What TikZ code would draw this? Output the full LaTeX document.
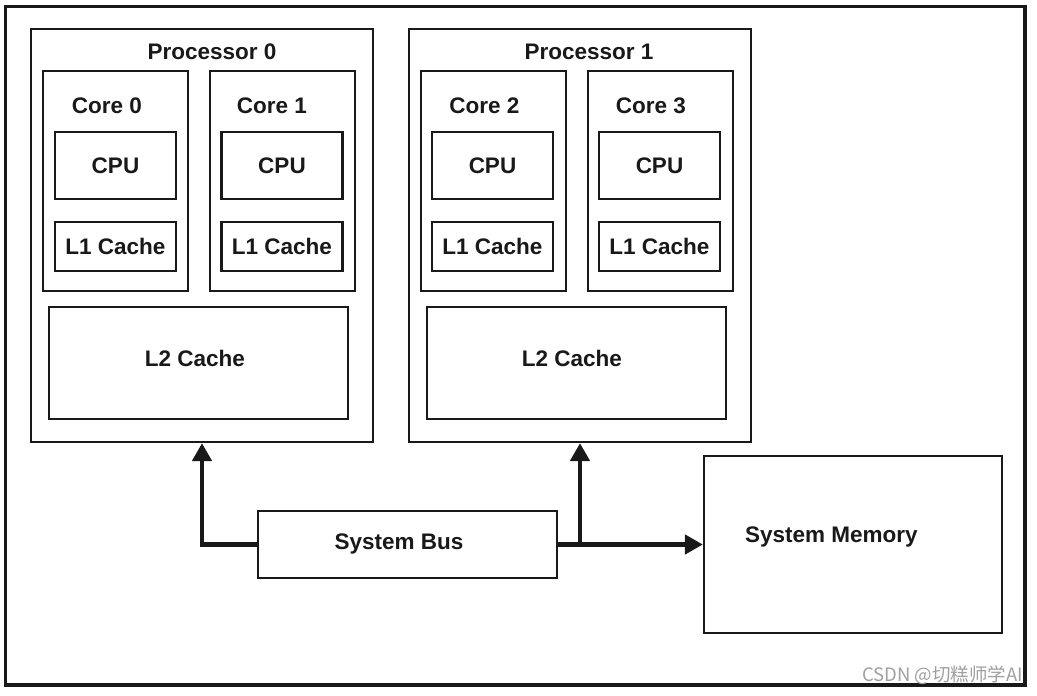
\documentclass[tikz,border=0pt]{standalone}
\usepackage{fontspec}
\setmainfont{Liberation Sans}
\newfontfamily\cjk{Noto Sans CJK SC}
\usetikzlibrary{arrows.meta}
\definecolor{ink}{RGB}{25,25,25}
\definecolor{wm}{RGB}{160,160,160}
\begin{document}
\begin{tikzpicture}[x=1pt,y=-1pt,
  box/.style={draw=ink, line width=2.2pt, inner sep=0pt},
  lbl/.style={font=\fontsize{22.5}{24}\selectfont\bfseries, text=ink, inner sep=0pt},
  bus/.style={draw=ink, line width=4.8pt, -{Triangle[length=18pt,width=19pt]}}]
\useasboundingbox (0,0) rectangle (1037,696);
\fill[white] (0,0) rectangle (1037,696);
% outer frame
\node[box, line width=3.5pt, minimum width=1019.5pt, minimum height=678.5pt] (frame) at (515.25,345.75) {};
% processors
\node[box, minimum width=342pt, minimum height=413pt] (p0) at (202,235.5) {};
\node[box, minimum width=342pt, minimum height=413pt] (p1) at (580,235.5) {};
\node[lbl] (p0t) at (212,52) {Processor 0};
\node[lbl] (p1t) at (589,52) {Processor 1};
% cores
\node[box, minimum width=145pt, minimum height=220pt] (c0) at (115.5,181) {};
\node[box, minimum width=145pt, minimum height=220pt] (c1) at (282.5,181) {};
\node[box, minimum width=145pt, minimum height=220pt] (c2) at (493.5,181) {};
\node[box, minimum width=145pt, minimum height=220pt] (c3) at (660.5,181) {};
\node[lbl] (c0t) at (107,106) {Core 0};
\node[lbl] (c1t) at (272,106) {Core 1};
\node[lbl] (c2t) at (484.5,106) {Core 2};
\node[lbl] (c3t) at (651,106) {Core 3};
% CPUs
\node[box, lbl, minimum width=121pt, minimum height=67pt] (cpu0) at (115.5,165.5) {CPU};
\node[box, lbl, minimum width=121pt, minimum height=67pt] (cpu1) at (282,165.5) {CPU};
\node[box, lbl, minimum width=121pt, minimum height=67pt] (cpu2) at (492.5,165.5) {CPU};
\node[box, lbl, minimum width=121pt, minimum height=67pt] (cpu3) at (659.5,165.5) {CPU};
% L1 caches
\node[box, lbl, minimum width=121pt, minimum height=49pt] (l10) at (115.5,246.5) {L1 Cache};
\node[box, lbl, minimum width=121pt, minimum height=49pt] (l11) at (282,246.5) {L1 Cache};
\node[box, lbl, minimum width=121pt, minimum height=49pt] (l12) at (492.5,246.5) {L1 Cache};
\node[box, lbl, minimum width=121pt, minimum height=49pt] (l13) at (659.5,246.5) {L1 Cache};
% L2 caches
\node[box, minimum width=299pt, minimum height=112pt] (l20) at (198.5,363) {};
\node[box, minimum width=299pt, minimum height=112pt] (l21) at (576.5,363) {};
\node[lbl] (l20t) at (195,358) {L2 Cache};
\node[lbl] (l21t) at (572,358) {L2 Cache};
% system bus and memory
\node[box, minimum width=299pt, minimum height=67pt] (bus) at (407.5,544.5) {};
\node[lbl] (bust) at (399,544) {System Bus};
\node[box, minimum width=298pt, minimum height=177pt] (mem) at (853,544.5) {};
\node[lbl] (memt) at (831.5,537) {System Memory};
% connectors
\draw[bus] (bus.west) -| (p0.south);
\draw[bus] (bus.east) -- (mem.west);
\draw[bus] (bus.east -| p1.south) -- (p1.south);
% watermark
\node[font=\cjk\fontsize{18.5}{20}\selectfont, text=wm, inner sep=0pt, anchor=east] (wmk) at (1023,675) {CSDN @切糕师学AI};
\end{tikzpicture}
\end{document}
